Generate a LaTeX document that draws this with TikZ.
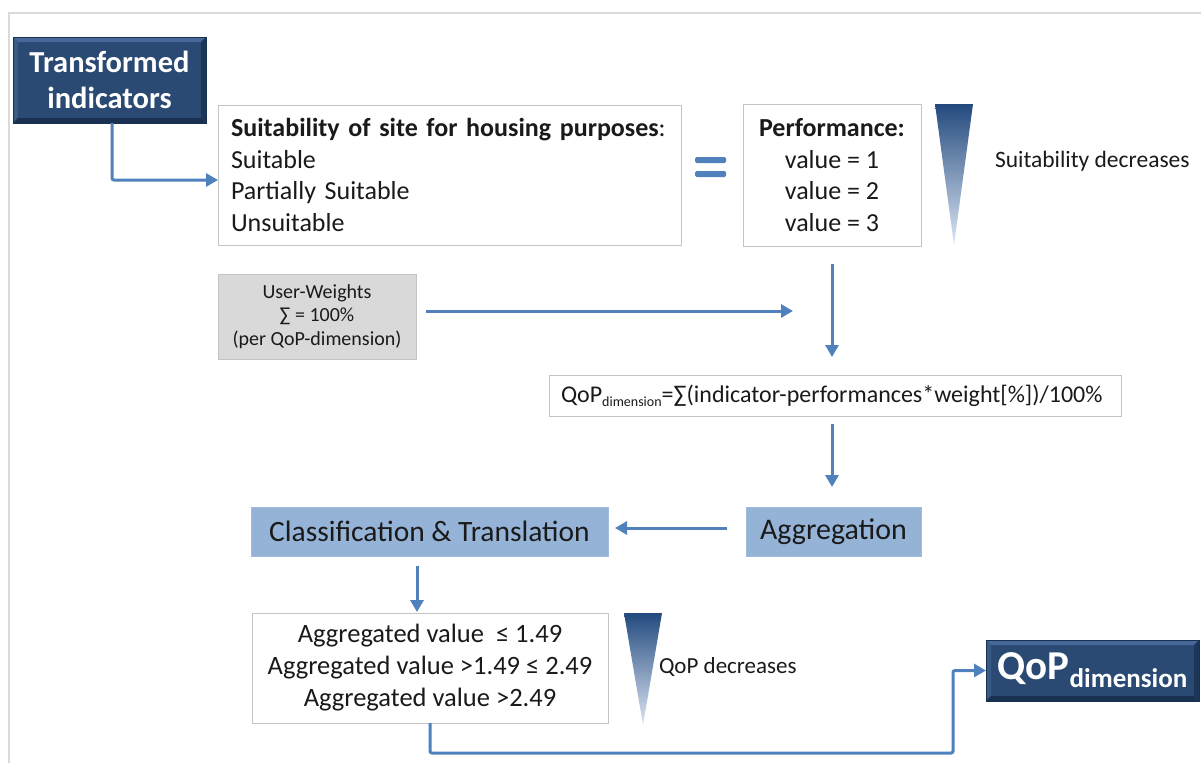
\documentclass[tikz,border=0pt]{standalone}
\usepackage{fontspec}
\setmainfont{Carlito}
\usetikzlibrary{arrows.meta}
\definecolor{conncol}{HTML}{4F81BD}
\definecolor{navy}{HTML}{2A4A73}
\definecolor{navylight}{HTML}{48689A}
\definecolor{navyside}{HTML}{3A5A86}
\definecolor{navydark}{HTML}{1A3050}
\definecolor{lblue}{HTML}{95B3D7}
\definecolor{boxgray}{HTML}{C4C4C4}
\definecolor{uwfill}{HTML}{D9D9D9}
\definecolor{framecol}{HTML}{DADADA}
\definecolor{tridark}{HTML}{234A7E}
\definecolor{trimid}{HTML}{B4C6E4}
\definecolor{trilight}{HTML}{DCE6F4}
\definecolor{textdark}{HTML}{1A1A1A}
\newcommand\myfs[2]{\fontsize{#1}{#2}\selectfont}
\tikzset{
  every node/.style={inner sep=0pt, outer sep=0pt, text=textdark},
  whitebox/.style={draw=boxgray, fill=white, line width=1pt},
  graybox/.style={draw=boxgray, fill=uwfill, line width=1pt},
  bluebox/.style={fill=lblue, draw=lblue!90!white, line width=0.6pt},
  navybox/.style={fill=navy, draw=navydark, line width=1pt, text=white,
    path picture={
      \fill[navylight] (path picture bounding box.north west) -- (path picture bounding box.north east)
        -- ([shift={(-5pt,-5pt)}]path picture bounding box.north east) -- ([shift={(5pt,-5pt)}]path picture bounding box.north west) -- cycle;
      \fill[navyside] (path picture bounding box.north west) -- ([shift={(5pt,-5pt)}]path picture bounding box.north west)
        -- ([shift={(5pt,5pt)}]path picture bounding box.south west) -- (path picture bounding box.south west) -- cycle;
      \fill[navydark] (path picture bounding box.south west) -- (path picture bounding box.south east)
        -- ([shift={(-5pt,5pt)}]path picture bounding box.south east) -- ([shift={(5pt,5pt)}]path picture bounding box.south west) -- cycle;
      \fill[navydark!80!navy] (path picture bounding box.north east) -- ([shift={(-5pt,-5pt)}]path picture bounding box.north east)
        -- ([shift={(-5pt,5pt)}]path picture bounding box.south east) -- (path picture bounding box.south east) -- cycle;
    }},
  conn/.style={draw=conncol, line width=3pt, rounded corners=2pt, -{Triangle[length=12pt,width=13pt]}},
  tri/.style={top color=tridark, middle color=trimid, bottom color=trilight}
}
\begin{document}
\begin{tikzpicture}[x=1pt,y=-1pt]
\useasboundingbox (0,0) rectangle (1201,763);
\fill[white] (0,0) rectangle (1201,763);
\draw[framecol, line width=2pt] (1201,13) -- (9,13) -- (9,763);

% top row
\node[navybox, minimum width=193pt, minimum height=86pt, font=\bfseries\myfs{30.5}{36}, align=center] (ti) at (109.5,80) {Transformed\\indicators};
\node[whitebox, minimum width=463pt, minimum height=140pt, text width=437pt, inner xsep=13pt, align=left, font=\myfs{26}{31.5}] (suit) at (449.5,175) {\textbf{Suitability of site for housing purposes}:\\Suitable\\Partially Suitable\\Unsuitable};
\fill[conncol, rounded corners=1.5pt] (695,157) rectangle (726,163) (695,171) rectangle (726,177);
\node[whitebox, minimum width=178pt, minimum height=142pt, align=center, font=\myfs{26}{31.5}] (perf) at (832,175) {\textbf{Performance:}\\value = 1\\value = 2\\value = 3};
\shade[tri] (935,104) -- (973,104) -- (954,245) -- cycle;
\node[anchor=west, font=\myfs{23.5}{26}] (sdec) at (995,161) {Suitability decreases};

% weights
\node[graybox, minimum width=198pt, minimum height=85pt, align=center, font=\myfs{20}{23.5}] (uw) at (317,316.5) {User-Weights\\∑ = 100\%\\(per QoP-dimension)};
\coordinate (wtip) at (793,311);

% formula
\node[whitebox, minimum width=572pt, minimum height=41pt, text width=548pt, inner xsep=12pt, align=left, font=\myfs{24}{28}] (form) at (835,395.5) {QoP\raisebox{-4pt}{\myfs{14}{14}dimension}=∑(indicator-performances*weight[\%])/100\%};

% aggregation row
\node[bluebox, minimum width=175pt, minimum height=49pt, font=\myfs{30}{34}] (agg) at (833.5,531.5) {Aggregation};
\node[bluebox, minimum width=357pt, minimum height=49pt, font=\myfs{29.5}{34}] (class) at (429.5,531.5) {Classification \& Translation};

% classes
\node[whitebox, minimum width=356pt, minimum height=110pt, align=center, font=\myfs{26.5}{32}] (aggbox) at (430,668) {Aggregated value~ ≤ 1.49\\Aggregated value >1.49 ≤ 2.49\\Aggregated value >2.49};
\shade[tri] (624,613) -- (662,613) -- (643,725) -- cycle;
\node[anchor=west, font=\myfs{23}{26}] (qdec) at (659,667) {QoP decreases};

\node[navybox, minimum width=213pt, minimum height=61pt, font=\bfseries] (qop) at (1092.5,670.5) {\myfs{41}{44}QoP\raisebox{-8pt}{\myfs{27}{30}dimension}};
\coordinate (bend) at (953,753);

% connectors
\draw[conn] ([xshift=2.5pt]ti.south) |- ([yshift=-5pt]suit.west);
\draw[conn] ([xshift=10pt,yshift=5.5pt]uw.east) -- (wtip);
\draw[conn] ([yshift=-18pt]perf.south) -- ([yshift=18pt]perf.south |- form.north);
\draw[conn] ([yshift=-8pt]perf.south |- form.south) -- ([yshift=20pt]perf.south |- agg.north);
\draw[conn] ([xshift=-19pt,yshift=3.5pt]agg.west) -- ([xshift=7pt,yshift=3.5pt]class.east);
\draw[conn] ([xshift=-12.5pt,yshift=-10pt]class.south) -- ([xshift=-12.5pt,yshift=1pt]class.south |- aggbox.north);
\draw[conn] (aggbox.south) |- (bend) |- (qop.west);
\end{tikzpicture}
\end{document}
